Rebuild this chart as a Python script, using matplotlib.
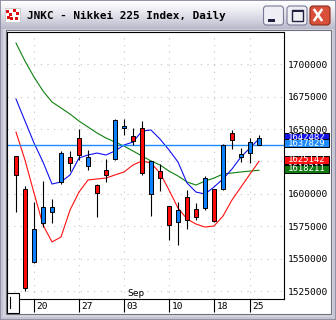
import matplotlib
matplotlib.use("Agg")
import matplotlib.pyplot as plt
from matplotlib.patches import Rectangle, FancyBboxPatch
from matplotlib.colors import LinearSegmentedColormap
import numpy as np

# ---------------- data ----------------
title = "JNKC - Nikkei 225 Index, Daily"
dates = ["2014-08-18", "2014-08-19", "2014-08-20", "2014-08-21", "2014-08-22",
         "2014-08-25", "2014-08-26", "2014-08-27", "2014-08-28", "2014-08-29",
         "2014-09-01", "2014-09-02", "2014-09-03", "2014-09-04", "2014-09-05",
         "2014-09-08", "2014-09-09", "2014-09-10", "2014-09-11", "2014-09-12",
         "2014-09-16", "2014-09-17", "2014-09-18", "2014-09-19", "2014-09-22",
         "2014-09-24", "2014-09-25", "2014-09-26"]
opens = [1614300, 1527100, 1572700, 1589600, 1589600, 1631300, 1624100, 1629800,
         1628700, 1600900, 1614800, 1656800, 1652100, 1641000, 1615900, 1625100,
         1612000, 1575700, 1587300, 1579600, 1581900, 1612000, 1579300, 1637700,
         1641300, 1630500, 1639800, 1642900]
highs = [1629600, 1606100, 1594000, 1609700, 1595800, 1633100, 1633100, 1649800,
         1633600, 1607300, 1626900, 1657600, 1657600, 1650600, 1656500, 1625600,
         1622800, 1591000, 1593500, 1602800, 1592700, 1614000, 1604000, 1638200,
         1649500, 1635200, 1642900, 1645200]
lows = [1586000, 1525300, 1546500, 1574700, 1577700, 1608000, 1617600, 1625900,
        1618400, 1582400, 1608900, 1625900, 1645200, 1637700, 1614600, 1583100,
        1602400, 1564400, 1560300, 1572700, 1579600, 1587300, 1578100, 1603000,
        1634400, 1624400, 1623600, 1637400]
closes = [1629000, 1603500, 1547200, 1577300, 1586200, 1608900, 1628200, 1643400,
          1621300, 1606800, 1618400, 1626700, 1650600, 1644400, 1650600, 1599700,
          1617400, 1590400, 1578100, 1597400, 1588100, 1588900, 1603500, 1603500,
          1646700, 1628200, 1631300, 1637829]
ma_blue = [1673200, 1656200, 1639300, 1624600, 1607600, 1609200, 1614600, 1627700,
           1630000, 1631500, 1630000, 1633100, 1637700, 1640000, 1648500, 1649300,
           1642300, 1633900, 1624600, 1608400, 1601400, 1599900, 1605300, 1611500,
           1619200, 1628500, 1635400, 1642482]
ma_red = [1647700, 1626100, 1600700, 1576000, 1562900, 1566700, 1587500, 1601400,
          1610700, 1611500, 1612200, 1614600, 1616900, 1622300, 1625400, 1623800,
          1616100, 1603000, 1589100, 1580600, 1576700, 1574400, 1575200, 1582900,
          1595300, 1605300, 1615300, 1625142]
ma_green = [1716400, 1702500, 1690200, 1679400, 1670900, 1666300, 1661600, 1656200,
            1651600, 1647000, 1643100, 1640000, 1636900, 1633100, 1629200, 1625400,
            1622300, 1617600, 1613800, 1609200, 1606800, 1609900, 1612200, 1615300,
            1616100, 1616900, 1617600, 1618211]
price_ticks = [1525000, 1550000, 1575000, 1600000, 1625000, 1650000, 1675000, 1700000]
hidden_price_labels = [1625000]
x_tick_idx = [2, 7, 12, 17, 22, 26]
month_idx = 12
month_label = "Sep"

# ---------------- styling ----------------
MONO = "DejaVu Sans Mono"
RED = "#ff0a0a"
BLUE_C = "#0a80ff"
LINE_BLUE = "#1010f0"
LINE_RED = "#ff1010"
LINE_GREEN = "#108010"
FS = 6.8

W, H = 336, 320
fig = plt.figure(figsize=(W / 100, H / 100), dpi=100)

# window chrome (pixel coordinates)
bg = fig.add_axes([0, 0, 1, 1], zorder=0)
bg.set_xlim(0, W)
bg.set_ylim(H, 0)
bg.axis("off")
bg.add_patch(Rectangle((0, 0), W, H, fc="#c4c4d2", ec="#8a8aa0", lw=1.2))
grad = np.linspace(0, 1, 60).reshape(-1, 1)
cm = LinearSegmentedColormap.from_list("t", ["#ffffff", "#ececf2", "#d6d6e2", "#b8b8ca"])
bg.imshow(grad, extent=[1, W - 1, 29, 1], cmap=cm, aspect="auto", zorder=1)
bg.add_patch(Rectangle((3, 29), W - 6, H - 32, fc="#d4d4de", ec="none", zorder=1))
bg.add_patch(Rectangle((6, 30), 325, 284, fc="white", ec="#707080", lw=0.8, zorder=2))
# icon
bg.add_patch(Rectangle((5, 8), 15, 14, fc="white", ec="#c0c0c0", lw=0.5, zorder=3))
for (ix, iy) in [(6, 10), (9, 13), (13, 9), (16, 12), (10, 17), (15, 17), (7, 16)]:
    bg.add_patch(Rectangle((ix, iy), 3, 3, fc="#e01010", ec="none", zorder=4))
bg.text(27, 15.5, title, fontfamily=MONO, fontweight="bold", fontsize=7.9,
        va="center", ha="left", color="black", zorder=4)
# buttons
for bx, fc, ec in [(263.5, "#eeeef4", "#7a7a9a"), (287, "#eeeef4", "#7a7a9a"), (310, "#d9503a", "#8a2a1a")]:
    bg.add_patch(FancyBboxPatch((bx, 6), 20, 19, boxstyle="round,pad=0,rounding_size=3",
                                fc=fc, ec=ec, lw=0.8, zorder=3))
bg.add_patch(Rectangle((268, 19), 7, 2.5, fc="#202040", ec="none", zorder=4))
bg.add_patch(Rectangle((291.5, 9.5), 11, 11, fc="none", ec="#202040", lw=1.0, zorder=4))
bg.add_patch(Rectangle((291.5, 9.5), 11, 2, fc="#202040", ec="none", zorder=4))
bg.plot([314.5, 321.5], [10, 20], color="white", lw=1.8, zorder=4)
bg.plot([314.5, 321.5], [20, 10], color="white", lw=1.8, zorder=4)

# ---------------- main chart ----------------
ax = fig.add_axes([7 / W, 21 / H, 277 / W, 267 / H], zorder=1)
x = np.arange(len(dates))
ymin, ymax = 1518857, 1724929
ax.set_xlim(-1, -1 + 277 / 9)
ax.set_ylim(ymin, ymax)
ax.set_facecolor("white")
dpp = (ymax - ymin) / 267.0

ax.set_yticks(price_ticks)
ax.set_yticklabels(["" if p in hidden_price_labels else str(p) for p in price_ticks],
                   fontfamily=MONO, fontsize=FS)
ax.yaxis.tick_right()
ax.tick_params(axis="y", length=0, pad=3.0, colors="black")
ax.set_xticks(x_tick_idx)
ax.tick_params(axis="x", length=9.5, width=0.8, direction="out", labelbottom=False, colors="black")
ax.grid(True, color="#c4c4c4", linestyle=(0, (1, 5)), lw=0.8)
for s in ax.spines.values():
    s.set_color("black")
    s.set_linewidth(0.8)

xt = ax.get_xaxis_transform()
for i in x_tick_idx:
    ax.text(i + 0.28, -0.027, dates[i][-2:], transform=xt, fontfamily=MONO, fontsize=FS,
            ha="left", va="center", clip_on=False)
ax.text(month_idx + 0.33, 0.003, month_label, transform=xt, fontfamily=MONO, fontsize=FS,
        ha="left", va="bottom")

# moving averages
ax.plot(x, ma_green, color=LINE_GREEN, lw=0.8, zorder=2)
ax.plot(x, ma_red, color=LINE_RED, lw=0.8, zorder=2)
ax.plot(x, ma_blue, color=LINE_BLUE, lw=0.8, zorder=2)
ax.axhline(closes[-1], color="#1e8cff", lw=1.0, zorder=2.2)

# candles
o = np.array(opens); c = np.array(closes)
cols = [RED if cc >= oo else BLUE_C for oo, cc in zip(o, c)]
ax.vlines(x, lows, highs, color="black", lw=0.8, zorder=3)
ax.bar(x, np.maximum(np.abs(c - o), dpp * 1.5), bottom=np.minimum(o, c), width=0.46,
       color=cols, edgecolor="black", lw=0.7, zorder=4)

# value boxes on the right (each later box drawn above the previous one's text)
yt = ax.get_yaxis_transform()
z = 5
for val, fc in [(ma_blue[-1], "#1414e8"), (closes[-1], "#1e8cff"),
                (ma_red[-1], "#ff1010"), (ma_green[-1], "#107a10")]:
    cy = val + 1.5 * dpp
    ax.add_patch(Rectangle((1.0, cy - 4 * dpp), 45 / 277, 8 * dpp, transform=yt,
                           fc=fc, ec="black", lw=0.7, clip_on=False, zorder=z))
    ax.text(1.0 + 22.5 / 277, cy, str(val), transform=yt, color="white", fontfamily=MONO,
            fontsize=FS - 0.3, ha="center", va="center", clip_on=False, zorder=z + 0.5)
    z += 1

# overlay: small box at bottom-left
ov = fig.add_axes([0, 0, 1, 1], zorder=3)
ov.set_xlim(0, W)
ov.set_ylim(H, 0)
ov.axis("off")
ov.patch.set_alpha(0)
ov.add_patch(Rectangle((7, 293), 12, 20, fc="white", ec="black", lw=0.8))
ov.plot([9.5, 9.5], [297, 308], color="black", lw=0.8)

fig.savefig("out.png", dpi=100)
